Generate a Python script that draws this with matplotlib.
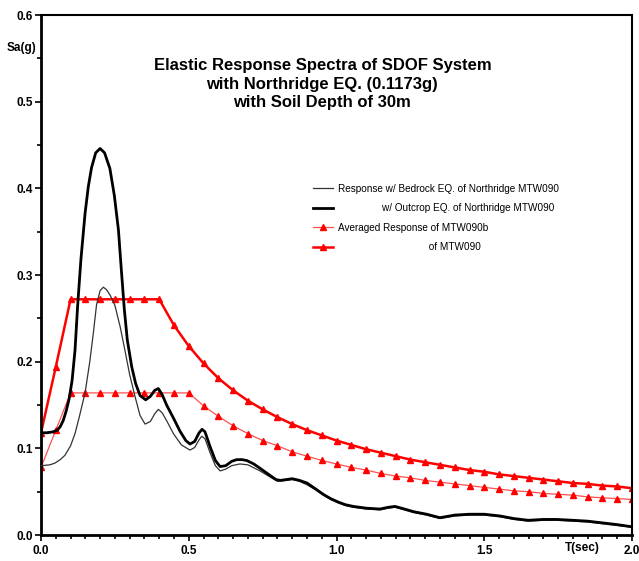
"""
    Elastic response spectra of SDOF system, Northridge EQ. (0.1173g),
    soil depth 30m. Bedrock / outcrop response and averaged design spectra.
"""

import matplotlib
matplotlib.use("Agg")
import matplotlib.pyplot as plt
from matplotlib.ticker import MultipleLocator

plt.rcParams["font.family"] = ["Liberation Sans", "DejaVu Sans"]

# Response with outcrop EQ. (thick black)
t_outcrop = [0.00, 0.02, 0.04, 0.055, 0.065, 0.075, 0.085, 0.095, 0.105, 0.115,
             0.124, 0.135, 0.149, 0.16, 0.171, 0.185, 0.20, 0.215, 0.233, 0.248,
             0.262, 0.272, 0.282, 0.292, 0.307, 0.32, 0.335, 0.354, 0.37, 0.385,
             0.397, 0.41, 0.425, 0.448, 0.47, 0.49, 0.504, 0.52, 0.535, 0.545,
             0.555, 0.572, 0.59, 0.606, 0.625, 0.645, 0.662, 0.68, 0.696, 0.72,
             0.741, 0.77, 0.795, 0.81, 0.83, 0.85, 0.875, 0.90, 0.93, 0.955,
             0.98, 1.006, 1.03, 1.057, 1.10, 1.147, 1.175, 1.198, 1.23, 1.26,
             1.305, 1.35, 1.40, 1.45, 1.50, 1.553, 1.60, 1.649, 1.70, 1.745,
             1.80, 1.85, 1.90, 1.95, 2.00]
sa_outcrop = [0.118, 0.118, 0.119, 0.121, 0.125, 0.132, 0.143, 0.157, 0.178, 0.213,
              0.265, 0.318, 0.371, 0.402, 0.424, 0.441, 0.446, 0.441, 0.423, 0.392,
              0.352, 0.305, 0.260, 0.225, 0.194, 0.175, 0.161, 0.156, 0.160, 0.167,
              0.169, 0.162, 0.150, 0.135, 0.120, 0.109, 0.105, 0.108, 0.118, 0.122,
              0.119, 0.102, 0.086, 0.079, 0.080, 0.085, 0.087, 0.087, 0.086, 0.082,
              0.077, 0.070, 0.064, 0.063, 0.064, 0.065, 0.063, 0.060, 0.053, 0.047,
              0.042, 0.038, 0.035, 0.033, 0.031, 0.030, 0.032, 0.033, 0.030, 0.027,
              0.024, 0.020, 0.023, 0.024, 0.024, 0.022, 0.019, 0.017, 0.018, 0.018,
              0.017, 0.016, 0.014, 0.012, 0.0095]

# Response with bedrock EQ. (thin black)
t_bedrock = [0.00, 0.03, 0.047, 0.065, 0.081, 0.10, 0.115, 0.13, 0.149, 0.165,
             0.177, 0.188, 0.20, 0.211, 0.222, 0.235, 0.25, 0.268, 0.284, 0.30,
             0.318, 0.335, 0.352, 0.37, 0.385, 0.397, 0.41, 0.425, 0.448, 0.475,
             0.504, 0.52, 0.535, 0.544, 0.555, 0.572, 0.59, 0.606, 0.625, 0.645,
             0.673, 0.70, 0.741, 0.77, 0.80, 0.83, 0.85, 0.875, 0.90, 0.93,
             0.955, 0.98, 1.006, 1.03, 1.057, 1.10, 1.147, 1.175, 1.198, 1.23,
             1.26, 1.305, 1.35, 1.40, 1.45, 1.50, 1.553, 1.60, 1.649, 1.70,
             1.745, 1.80, 1.85, 1.90, 1.95, 2.00]
sa_bedrock = [0.080, 0.081, 0.083, 0.087, 0.092, 0.103, 0.117, 0.137, 0.164, 0.200,
              0.233, 0.266, 0.282, 0.286, 0.283, 0.276, 0.265, 0.240, 0.213, 0.185,
              0.160, 0.138, 0.128, 0.131, 0.140, 0.145, 0.141, 0.132, 0.117, 0.104,
              0.098, 0.101, 0.110, 0.114, 0.111, 0.095, 0.080, 0.074, 0.076, 0.080,
              0.082, 0.081, 0.074, 0.068, 0.062, 0.063, 0.064, 0.062, 0.058, 0.052,
              0.046, 0.041, 0.037, 0.034, 0.032, 0.030, 0.029, 0.031, 0.032, 0.029,
              0.026, 0.023, 0.019, 0.022, 0.023, 0.023, 0.021, 0.018, 0.016, 0.017,
              0.017, 0.016, 0.015, 0.013, 0.011, 0.009]

# Averaged spectra (red, triangles every 0.05 s)
t_avg = [0.00, 0.05, 0.10, 0.15, 0.20, 0.25, 0.30, 0.35, 0.40, 0.45,
         0.50, 0.55, 0.60, 0.65, 0.70, 0.75, 0.80, 0.85, 0.90, 0.95,
         1.00, 1.05, 1.10, 1.15, 1.20, 1.25, 1.30, 1.35, 1.40, 1.45,
         1.50, 1.55, 1.60, 1.65, 1.70, 1.75, 1.80, 1.85, 1.90, 1.95, 2.00]
sa_avg_outcrop = [0.118, 0.194, 0.272, 0.272, 0.272, 0.272, 0.272, 0.272, 0.272, 0.242,
                  0.218, 0.198, 0.181, 0.167, 0.155, 0.145, 0.136, 0.128, 0.121, 0.115,
                  0.109, 0.104, 0.099, 0.095, 0.091, 0.087, 0.084, 0.081, 0.078, 0.075,
                  0.073, 0.070, 0.068, 0.066, 0.064, 0.062, 0.060, 0.059, 0.057, 0.056,
                  0.054]
sa_avg_bedrock = [0.078, 0.121, 0.164, 0.164, 0.164, 0.164, 0.164, 0.164, 0.164, 0.164,
                  0.164, 0.149, 0.137, 0.126, 0.117, 0.109, 0.103, 0.096, 0.091, 0.086,
                  0.082, 0.078, 0.075, 0.071, 0.068, 0.066, 0.063, 0.061, 0.059, 0.057,
                  0.055, 0.053, 0.051, 0.050, 0.048, 0.047, 0.046, 0.044, 0.043, 0.042,
                  0.041]

labels = ["Response w/ Bedrock EQ. of Northridge MTW090",
          "                w/ Outcrop EQ. of Northridge MTW090",
          "Averaged Response of MTW090b",
          "                                 of MTW090"]
title = "Elastic Response Spectra of SDOF System\nwith Northridge EQ. (0.1173g)\nwith Soil Depth of 30m"

fig = plt.figure(figsize=(6.39, 5.61), dpi=100)
ax = fig.add_axes([0.0642, 0.0463, 0.9249, 0.9269])

ax.plot(t_bedrock, sa_bedrock, color="#333333", lw=0.9, label=labels[0], zorder=3)
ax.plot(t_outcrop, sa_outcrop, color="black", lw=2.0, label=labels[1], zorder=3)
ax.plot(t_avg, sa_avg_bedrock, color="#ff5050", lw=0.9, marker="^", ms=5,
        mfc="red", mec="red", label=labels[2], zorder=2)
ax.plot(t_avg, sa_avg_outcrop, color="red", lw=1.8, marker="^", ms=5,
        label=labels[3], zorder=2)

ax.set_xlim(0, 2.0)
ax.set_ylim(0, 0.6)
ax.xaxis.set_major_locator(MultipleLocator(0.5))
ax.xaxis.set_minor_locator(MultipleLocator(0.05))
ax.yaxis.set_major_locator(MultipleLocator(0.1))
ax.yaxis.set_minor_locator(MultipleLocator(0.05))
ax.tick_params(which="both", direction="out", width=1.2, labelsize=8.5)
ax.tick_params(which="major", length=4)
ax.tick_params(which="minor", length=3)
ax.tick_params(axis="x", pad=3)
ax.tick_params(axis="y", pad=2)
for lbl in ax.get_xticklabels() + ax.get_yticklabels():
    lbl.set_fontweight("bold")
ax.xaxis.set_major_formatter(plt.FormatStrFormatter("%.1f"))
ax.yaxis.set_major_formatter(plt.FormatStrFormatter("%.1f"))
for side in ["left", "bottom"]:
    ax.spines[side].set_linewidth(2.0)
for side in ["top", "right"]:
    ax.spines[side].set_linewidth(1.5)

fig.text(7 / 639, 1 - 48 / 561, "Sa(g)", fontsize=8.5, fontweight="bold", va="center")
fig.text(565 / 639, 1 - 548 / 561, "T(sec)", fontsize=8.5, fontweight="bold", va="center")

ax.text(0.476, 1 - (84 - 15) / 520, title, transform=ax.transAxes, ha="center",
        va="center", fontsize=12.0, fontweight="bold", linespacing=1.3)

ax.legend(loc="upper left", bbox_to_anchor=(0.46, 0.676), frameon=False,
          fontsize=7.2, handlelength=2.0, handletextpad=0.55, labelspacing=0.95,
          borderpad=0, borderaxespad=0)

plt.savefig("out.png", dpi=100)
